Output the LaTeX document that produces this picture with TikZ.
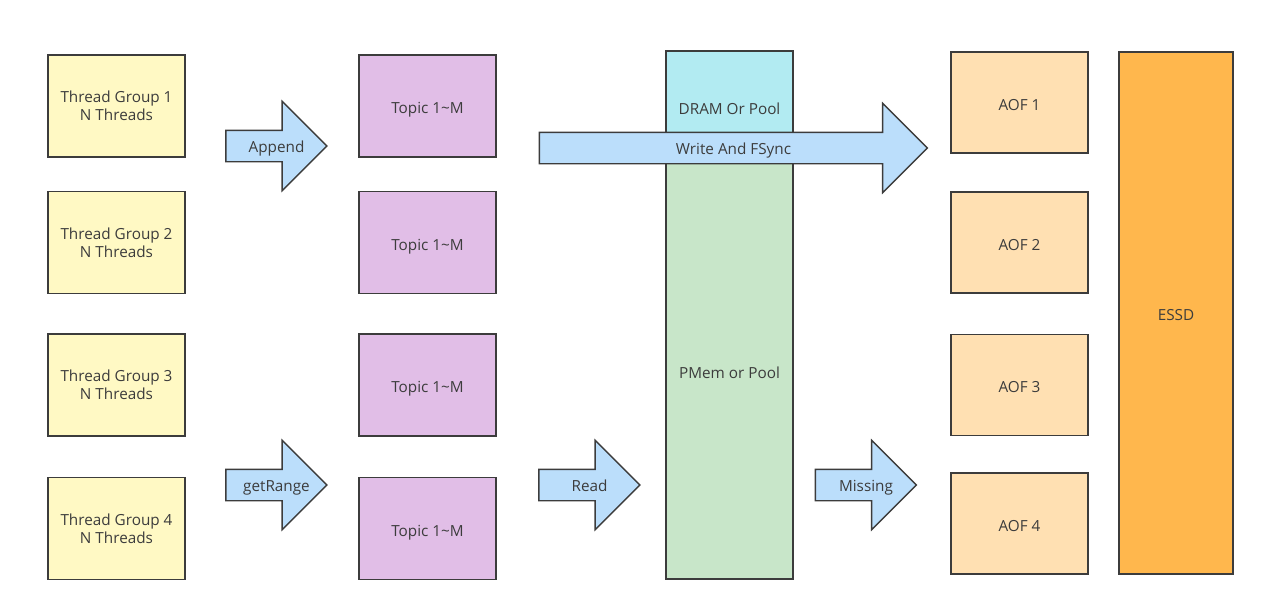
\documentclass[tikz,border=0pt]{standalone}
\usepackage{fontspec}
\setmainfont{Open Sans}
\usetikzlibrary{shapes.arrows, positioning}
\definecolor{lineGray}{RGB}{60,60,60}
\definecolor{txtGray}{RGB}{60,60,60}
\definecolor{grpYellow}{RGB}{255,249,196}
\definecolor{topicPurple}{RGB}{225,190,231}
\definecolor{dramCyan}{RGB}{178,235,242}
\definecolor{pmemGreen}{RGB}{200,230,201}
\definecolor{aofPeach}{RGB}{255,224,178}
\definecolor{essdOrange}{RGB}{255,183,77}
\definecolor{arrowBlue}{RGB}{187,222,251}
\tikzset{
  box/.style={draw=lineGray, line width=0.7pt, minimum width=2.74cm, minimum height=2.04cm,
    text=txtGray, align=center, font=\fontsize{8.7}{10.5}\selectfont, inner sep=0pt},
  onebox/.style={box, text height=1.6ex, text depth=0pt},
  blockarrow/.style={single arrow, draw=lineGray, line width=0.8pt, fill=arrowBlue,
    minimum width=1.76cm, single arrow head extend=0.58cm, single arrow tip angle=90,
    text height=2.8mm, text depth=0.2mm, inner xsep=0pt, inner ysep=1.5mm,
    text=txtGray, font=\fontsize{8.7}{10.5}\selectfont,
    execute at begin node=\hspace*{3.2mm}}
}

\begin{document}
\begin{tikzpicture}
    \useasboundingbox (0,0) rectangle (25.7,-12.08);
    % thread groups and topics
    \foreach \i/\y in {1/-2.12, 2/-4.85, 3/-7.7, 4/-10.57} {
      \node[box, fill=grpYellow] (tg\i) at (2.33,\y) {Thread Group \i\\N Threads};
      \node[onebox, fill=topicPurple] (topic\i) at (8.55,\y) {Topic 1\textasciitilde M};
    }
    % memory column
    \node[onebox, fill=pmemGreen, minimum width=2.54cm, minimum height=8.32cm] (pmem) at (14.59,-7.42) {PMem or Pool};
    \node[onebox, fill=dramCyan, minimum width=2.54cm, minimum height=2.24cm] (dram) at (14.59,-2.14) {DRAM Or Pool};
    % files
    \foreach \i/\y in {1/-2.05, 2/-4.85, 3/-7.7, 4/-10.47}
      \node[onebox, fill=aofPeach, minimum height=2.02cm] (aof\i) at (20.39,\y) {AOF \i};
    \node[onebox, fill=essdOrange, minimum width=2.28cm, minimum height=10.44cm] (essd) at (23.52,-6.26) {ESSD};
    % block arrows
    \node[blockarrow, minimum height=2.02cm] (append) at (5.37,-2.92) {Append};
    \node[blockarrow, minimum height=2.02cm] (getrange) at (5.37,-9.7) {getRange};
    \node[blockarrow, minimum height=2.02cm] (read) at (11.63,-9.7) {Read};
    \node[blockarrow, minimum height=2.02cm] (missing) at (17.16,-9.7) {Missing};
    \node[blockarrow, minimum height=7.76cm] (write) at (14.51,-2.96) {Write And FSync};
\end{tikzpicture}
\end{document}
